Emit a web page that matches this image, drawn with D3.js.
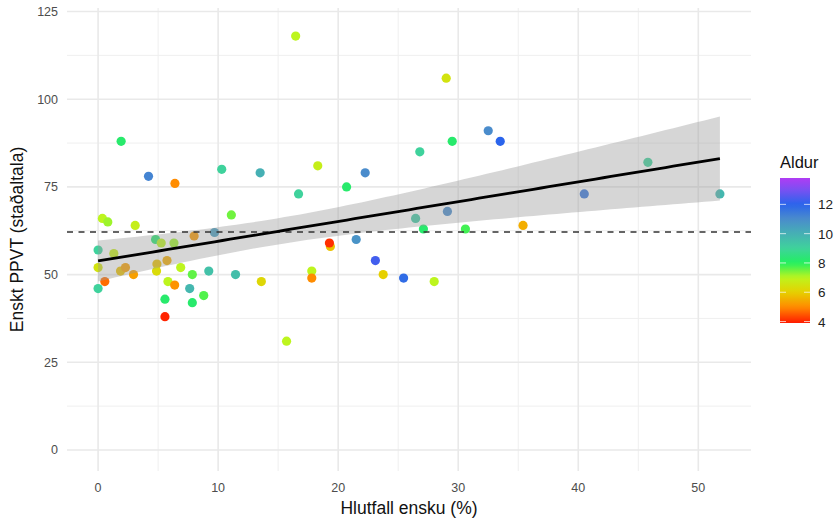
<!DOCTYPE html>
<html>
<head>
<meta charset="utf-8">
<script src="https://cdn.jsdelivr.net/npm/d3@7"></script>
<style>
  body { margin: 0; background: #fff; }
  svg { display: block; font-family: "Liberation Sans", Arial, sans-serif; }
</style>
</head>
<body>
<svg id="chart" width="838" height="521"></svg>
<script>
// Share of English (%) per child
const hlutfall = [16.46, 1.92, 4.2, 6.4, 10.3, 13.5, 16.7, 0.36, 0.81, 3.09, 11.1, 9.7, 8.0, 4.79, 0, 1.31, 5.26, 6.32, 0, 1.87, 2.28, 2.95, 0.56, 0, 4.9, 5.74, 4.87, 6.88, 7.85, 9.22, 11.45, 13.6, 5.82, 6.38, 7.63, 5.57, 7.85, 8.8, 5.57, 15.7, 29.0, 32.5, 33.5, 29.5, 26.8, 18.3, 22.25, 20.7, 26.45, 29.1, 27.1, 30.6, 35.4, 19.35, 19.27, 21.5, 23.1, 17.8, 17.8, 23.75, 25.45, 28.0, 40.5, 45.8, 51.8];
// English PPVT standard score
const ppvt = [118, 88, 78, 76, 80, 79, 73, 66, 65, 64, 67, 62, 61, 60, 57, 56, 59, 59, 52, 51, 52, 50, 48, 46, 53, 54, 51, 52, 50, 51, 50, 48, 48, 47, 46, 43, 42, 44, 38, 31, 106, 91, 88, 88, 85, 81, 79, 75, 66, 68, 63, 63, 64, 58, 59, 60, 54, 51, 49, 50, 49, 48, 73, 82, 73];
// Age in years
const aldur = [7, 8.2, 11.2, 5, 9, 10, 9, 7, 7.2, 6.8, 7.5, 10.5, 5.2, 8.3, 9, 6.8, 7, 7.2, 6.5, 5.8, 5.3, 5.3, 4.7, 9, 5.8, 5.5, 6.3, 7, 7.6, 9.5, 9.6, 6.2, 7, 5.1, 9.8, 8.2, 8.2, 7.7, 4, 7, 6.5, 11, 12, 8.2, 9, 6.8, 11, 8.2, 9.3, 11, 8.2, 7.8, 5.5, 5.8, 4.1, 10.8, 12.3, 7, 5, 6, 11.8, 7, 11.5, 9, 9.8];

const xTicks = [0, 10, 20, 30, 40, 50];
const xMinor = [5, 15, 25, 35, 45];
const yTicks = [0, 25, 50, 75, 100, 125];
const yMinor = [12.5, 37.5, 62.5, 87.5, 112.5];
const yLimits = [0, 120];
const legendTicks = [4, 6, 8, 10, 12];
const ageRange = [3.9, 13.8];

// rainbow-style palette for age
const ageStops = [3.9, 5, 6, 7, 8, 9, 10, 11, 12, 13, 13.8];
const ageColors = ['#ff1a00', '#ff8c00', '#e6d000', '#bdf51e', '#22f060', '#3fd29c', '#46b0b4', '#4a8ccc', '#2a64ec', '#7a50f2', '#b03cf4'];

const svg = d3.select('#chart');
const panel = { left: 67, right: 751, top: 8, bottom: 471 };

const xExt = d3.extent(hlutfall);
const xPad = (xExt[1] - xExt[0]) * 0.05;
const x = d3.scaleLinear().domain([xExt[0] - xPad, xExt[1] + xPad]).range([panel.left, panel.right]);
const yPad = (yLimits[1] - yLimits[0]) * 0.05;
const y = d3.scaleLinear().domain([yLimits[0] - yPad, yLimits[1] + yPad]).range([panel.bottom, panel.top]);
const color = d3.scaleLinear().domain(ageStops).range(ageColors).interpolate(d3.interpolateRgb).clamp(true);

// grid
const grid = svg.append('g');
grid.selectAll('.ym').data(yMinor).join('line')
  .attr('x1', panel.left).attr('x2', panel.right)
  .attr('y1', d => y(d)).attr('y2', d => y(d))
  .attr('stroke', '#efefef').attr('stroke-width', 1);
grid.selectAll('.xm').data(xMinor).join('line')
  .attr('y1', panel.top).attr('y2', panel.bottom)
  .attr('x1', d => x(d)).attr('x2', d => x(d))
  .attr('stroke', '#efefef').attr('stroke-width', 1);
grid.selectAll('.yM').data(yTicks).join('line')
  .attr('x1', panel.left).attr('x2', panel.right)
  .attr('y1', d => y(d)).attr('y2', d => y(d))
  .attr('stroke', '#e9e9e9').attr('stroke-width', 1.6);
grid.selectAll('.xM').data(xTicks).join('line')
  .attr('y1', panel.top).attr('y2', panel.bottom)
  .attr('x1', d => x(d)).attr('x2', d => x(d))
  .attr('stroke', '#e9e9e9').attr('stroke-width', 1.6);

// points
const pts = hlutfall.map((v, i) => ({ x: v, y: ppvt[i], a: aldur[i] }));
svg.append('g').selectAll('circle').data(pts).join('circle')
  .attr('cx', d => x(d.x)).attr('cy', d => y(d.y)).attr('r', 4.6)
  .attr('fill', d => color(d.a));

// linear fit with 95% confidence band
const n = pts.length;
const mx = d3.mean(hlutfall), my = d3.mean(ppvt);
let sxx = 0, sxy = 0;
pts.forEach(p => { sxx += (p.x - mx) ** 2; sxy += (p.x - mx) * (p.y - my); });
const slope = sxy / sxx, icpt = my - slope * mx;
const rss = d3.sum(pts, p => (p.y - icpt - slope * p.x) ** 2);
const s = Math.sqrt(rss / (n - 2));
const tq = 1.9983;
const fitX = d3.range(0, 81).map(i => xExt[0] + (xExt[1] - xExt[0]) * i / 80);
const fit = fitX.map(v => {
  const f = icpt + slope * v;
  const se = s * Math.sqrt(1 / n + (v - mx) ** 2 / sxx);
  return { x: v, f, lo: f - tq * se, hi: f + tq * se };
});
svg.append('path').datum(fit)
  .attr('d', d3.area().x(d => x(d.x)).y0(d => y(d.lo)).y1(d => y(d.hi)))
  .attr('fill', '#999999').attr('fill-opacity', 0.4);

// mean reference line
svg.append('line')
  .attr('x1', panel.left).attr('x2', panel.right)
  .attr('y1', y(my)).attr('y2', y(my))
  .attr('stroke', '#333').attr('stroke-width', 1.6).attr('stroke-dasharray', '6,5.5');

svg.append('path').datum(fit)
  .attr('d', d3.line().x(d => x(d.x)).y(d => y(d.f)))
  .attr('fill', 'none').attr('stroke', '#000').attr('stroke-width', 2.8);

// axis labels
const tickFont = 12.5;
svg.append('g').selectAll('text').data(yTicks).join('text')
  .attr('x', 58).attr('y', d => y(d) + 4.5).attr('text-anchor', 'end')
  .attr('font-size', tickFont).attr('fill', '#4d4d4d').text(d => d);
svg.append('g').selectAll('text').data(xTicks).join('text')
  .attr('x', d => x(d)).attr('y', 492).attr('text-anchor', 'middle')
  .attr('font-size', tickFont).attr('fill', '#4d4d4d').text(d => d);

svg.append('text').attr('x', (panel.left + panel.right) / 2).attr('y', 514)
  .attr('text-anchor', 'middle').attr('font-size', 17.5).attr('fill', '#111')
  .text('Hlutfall ensku (%)');
svg.append('text').attr('transform', `translate(23,${(panel.top + panel.bottom) / 2}) rotate(-90)`)
  .attr('text-anchor', 'middle').attr('font-size', 17.5).attr('fill', '#111')
  .text('Enskt PPVT (staðaltala)');

// colour bar legend
const lg = { x: 780, w: 30, top: 178, bottom: 323 };
const ly = d3.scaleLinear().domain(ageRange).range([lg.bottom, lg.top]);
const grad = svg.append('defs').append('linearGradient').attr('id', 'ageGrad')
  .attr('x1', 0).attr('y1', 1).attr('x2', 0).attr('y2', 0);
d3.range(0, 41).forEach(i => {
  const a = ageRange[0] + (ageRange[1] - ageRange[0]) * i / 40;
  grad.append('stop').attr('offset', i / 40).attr('stop-color', color(a));
});
svg.append('rect').attr('x', lg.x).attr('y', lg.top).attr('width', lg.w).attr('height', lg.bottom - lg.top)
  .attr('fill', 'url(#ageGrad)');
const lt = svg.append('g');
legendTicks.forEach(t => {
  lt.append('line').attr('x1', lg.x).attr('x2', lg.x + 6).attr('y1', ly(t)).attr('y2', ly(t))
    .attr('stroke', '#fff').attr('stroke-opacity', 0.7);
  lt.append('line').attr('x1', lg.x + lg.w - 6).attr('x2', lg.x + lg.w).attr('y1', ly(t)).attr('y2', ly(t))
    .attr('stroke', '#fff').attr('stroke-opacity', 0.7);
  lt.append('text').attr('x', lg.x + lg.w + 8).attr('y', ly(t) + 5)
    .attr('font-size', 13.5).attr('fill', '#222').text(t);
});
svg.append('text').attr('x', lg.x).attr('y', 168).attr('font-size', 16.5).attr('fill', '#111').text('Aldur');
</script>
</body>
</html>
